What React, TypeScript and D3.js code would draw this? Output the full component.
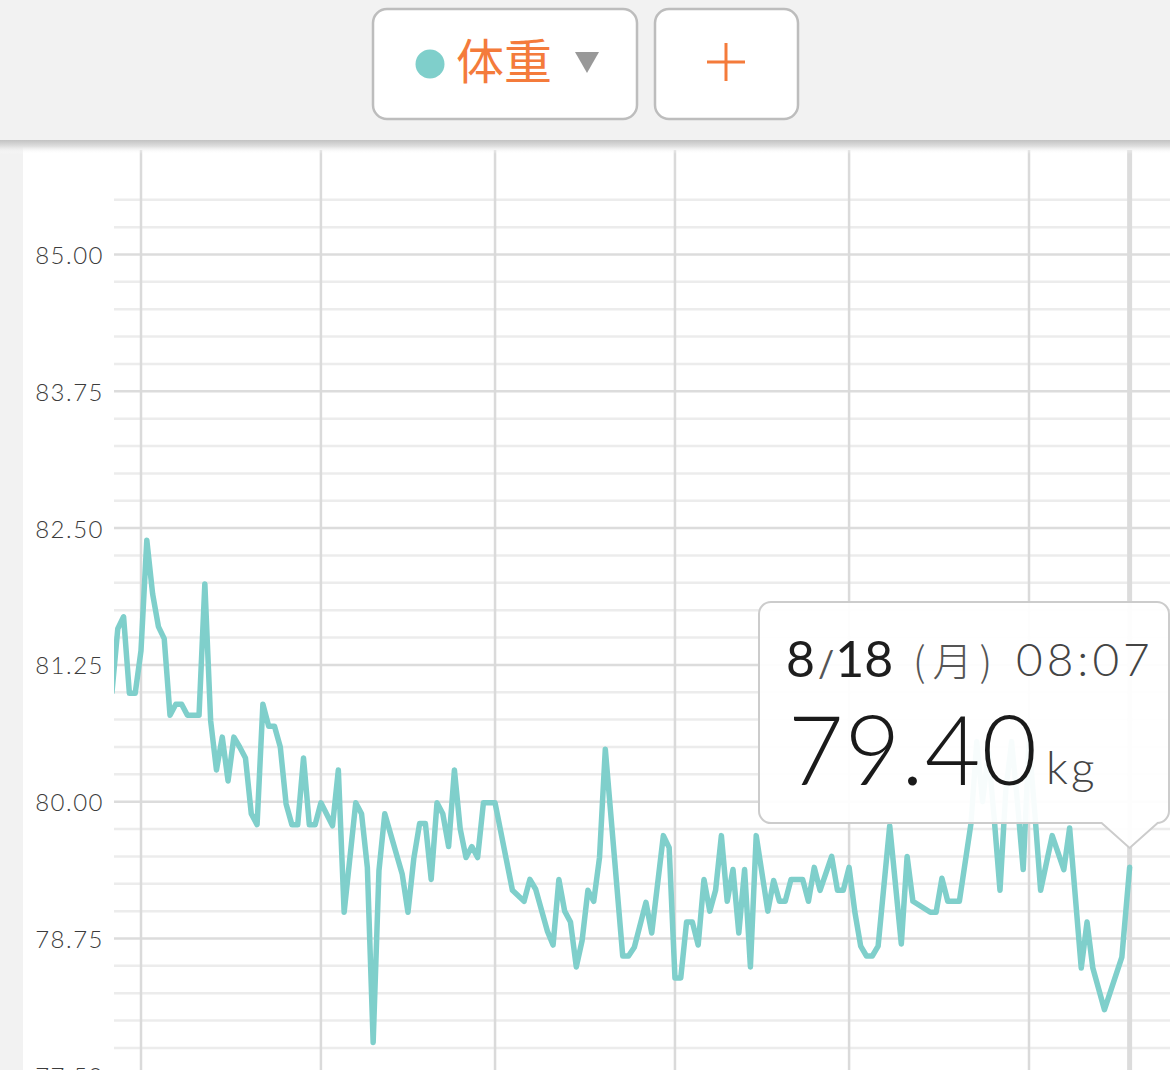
import React, { useEffect, useRef } from 'react';
import * as d3 from 'd3';

// --- data ---
const YEAR = 2025;
const seriesName = '体重';
const unit = 'kg';
const lastTime = '08:07';
const lastWeekday = '月';
const yTicks = [77.5, 78.75, 80, 81.25, 82.5, 83.75, 85];

const dates = [
  '2/24', '2/25', '2/26', '2/27', '2/28', '3/1', '3/2', '3/3', '3/4', '3/5',
  '3/6', '3/7', '3/8', '3/9', '3/11', '3/12', '3/13', '3/14', '3/15', '3/16',
  '3/17', '3/18', '3/19', '3/20', '3/21', '3/22', '3/23', '3/24', '3/25', '3/26',
  '3/27', '3/28', '3/29', '3/30', '3/31', '4/1', '4/3', '4/4', '4/5', '4/7',
  '4/8', '4/9', '4/10', '4/11', '4/12', '4/15', '4/16', '4/17', '4/18', '4/19',
  '4/20', '4/21', '4/22', '4/23', '4/24', '4/25', '4/26', '4/27', '4/28', '4/29',
  '4/30', '5/1', '5/4', '5/6', '5/7', '5/8', '5/10', '5/11', '5/12', '5/13',
  '5/14', '5/15', '5/16', '5/17', '5/18', '5/19', '5/20', '5/23', '5/24', '5/25',
  '5/27', '5/28', '5/30', '5/31', '6/1', '6/2', '6/3', '6/4', '6/5', '6/6',
  '6/7', '6/8', '6/9', '6/10', '6/11', '6/12', '6/13', '6/14', '6/15', '6/17',
  '6/18', '6/19', '6/20', '6/21', '6/22', '6/23', '6/24', '6/25', '6/26', '6/28',
  '6/29', '6/30', '7/1', '7/2', '7/3', '7/4', '7/5', '7/6', '7/8', '7/10',
  '7/11', '7/12', '7/15', '7/16', '7/17', '7/18', '7/20', '7/22', '7/23', '7/24',
  '7/25', '7/26', '7/27', '7/28', '7/29', '7/30', '7/31', '8/1', '8/2', '8/3',
  '8/5', '8/7', '8/8', '8/10', '8/11', '8/12', '8/14', '8/17', '8/18',
];

const weights = [
  81.0, 81.58, 81.69, 80.99, 80.99, 81.38, 82.39, 81.9, 81.6, 81.49,
  80.79, 80.89, 80.89, 80.79, 80.79, 81.99, 80.74, 80.29, 80.59, 80.19,
  80.59, 80.5, 80.4, 79.89, 79.79, 80.89, 80.69, 80.69, 80.5, 79.98,
  79.79, 79.79, 80.4, 79.79, 79.79, 79.99, 79.78, 80.29, 78.99, 79.99,
  79.89, 79.4, 77.8, 79.37, 79.89, 79.34, 78.99, 79.48, 79.8, 79.8,
  79.29, 79.99, 79.89, 79.59, 80.29, 79.75, 79.49, 79.59, 79.49, 79.99,
  79.99, 79.99, 79.19, 79.09, 79.29, 79.2, 78.82, 78.69, 79.29, 79.0,
  78.9, 78.49, 78.73, 79.19, 79.09, 79.49, 80.48, 78.59, 78.59, 78.67,
  79.08, 78.8, 79.69, 79.58, 78.39, 78.39, 78.9, 78.9, 78.69, 79.29,
  79.0, 79.19, 79.69, 79.09, 79.38, 78.8, 79.38, 78.49, 79.69, 79.0,
  79.28, 79.09, 79.09, 79.29, 79.29, 79.29, 79.09, 79.4, 79.19, 79.5,
  79.19, 79.19, 79.4, 78.99, 78.68, 78.59, 78.59, 78.68, 79.78, 78.7,
  79.5, 79.09, 78.99, 78.99, 79.3, 79.09, 79.09, 79.8, 80.55, 80.0,
  80.45, 79.85, 79.19, 80.1, 80.55, 80.0, 79.38, 80.55, 79.9, 79.19,
  79.69, 79.38, 79.76, 78.48, 78.9, 78.48, 78.1, 78.58, 79.4,
];

const TEAL = '#7fcfcb';
const ORANGE = '#f47b3b';
const LATIN = "Lato, 'Noto Sans', sans-serif";
const CJK = "'Noto Sans CJK JP', 'Noto Sans', sans-serif";

export default function App() {
  const svgRef = useRef<SVGSVGElement | null>(null);

  useEffect(() => {
    const width = 1170;
    const height = 1070;
    const svg = d3.select(svgRef.current);
    svg.selectAll('*').remove();

    const plot = { left: 114, right: width, top: 150, bottom: height };

    const parseDay = d3.timeParse('%Y/%m/%d');
    const data = dates.map((d, i) => ({ date: parseDay(`${YEAR}/${d}`) as Date, value: weights[i] }));
    const [hh, mm] = lastTime.split(':').map(Number);
    const last = data[data.length - 1];
    last.date = d3.timeMinute.offset(last.date, hh * 60 + mm);

    const x = d3.scaleTime()
      .domain([new Date(YEAR, 2, 1), new Date(YEAR, 7, 1)])
      .range([141, 1029]);
    const y = d3.scaleLinear().domain([77.5, 85]).range([1075.3, 254.5]);

    // --- backgrounds ---
    svg.append('rect').attr('width', width).attr('height', height).attr('fill', '#f2f2f2');
    svg.append('rect')
      .attr('x', 23).attr('y', 140)
      .attr('width', width - 23).attr('height', height - 140)
      .attr('fill', '#ffffff');

    const defs = svg.append('defs');
    defs.append('clipPath').attr('id', 'plot-clip')
      .append('rect')
      .attr('x', plot.left).attr('y', plot.top)
      .attr('width', plot.right - plot.left).attr('height', plot.bottom - plot.top);

    const grad = defs.append('linearGradient').attr('id', 'hdr-shadow')
      .attr('x1', 0).attr('y1', 0).attr('x2', 0).attr('y2', 1);
    grad.append('stop').attr('offset', '0%').attr('stop-color', '#c2c2c2');
    grad.append('stop').attr('offset', '45%').attr('stop-color', '#dfdfdf');
    grad.append('stop').attr('offset', '100%').attr('stop-color', '#ffffff').attr('stop-opacity', 0);

    // --- horizontal grid (every 0.25, darker every 1.25) ---
    const hVals = d3.range(0, 33).map(i => 77.5 + i * 0.25);
    svg.append('g')
      .selectAll('line')
      .data(hVals)
      .enter()
      .append('line')
      .attr('x1', plot.left).attr('x2', plot.right)
      .attr('y1', d => y(d)).attr('y2', d => y(d))
      .attr('stroke', (d, i) => (i % 5 === 0 ? '#dcdcdc' : '#ececec'))
      .attr('stroke-width', 2.5);

    // --- vertical grid at month starts ---
    const months = d3.timeMonth.range(new Date(YEAR, 1, 1), new Date(YEAR, 8, 2))
      .filter(d => x(d) > plot.left && x(d) < plot.right);
    svg.append('g')
      .selectAll('line')
      .data(months)
      .enter()
      .append('line')
      .attr('x1', d => x(d)).attr('x2', d => x(d))
      .attr('y1', plot.top).attr('y2', plot.bottom)
      .attr('stroke', '#dadada')
      .attr('stroke-width', 2.5);

    // cursor line at selected point
    const cx = x(last.date);
    svg.append('line')
      .attr('x1', cx).attr('x2', cx)
      .attr('y1', plot.top).attr('y2', plot.bottom)
      .attr('stroke', '#dcdcdc')
      .attr('stroke-width', 5);

    // --- y labels ---
    svg.append('g')
      .selectAll('text')
      .data(yTicks)
      .enter()
      .append('text')
      .attr('x', 104)
      .attr('y', d => y(d))
      .attr('text-anchor', 'end')
      .attr('dominant-baseline', 'central')
      .attr('font-family', LATIN)
      .attr('font-weight', 300)
      .attr('font-size', 24)
      .attr('letter-spacing', 1.5)
      .attr('fill', '#3c3c3c')
      .text(d => d3.format('.2f')(d));

    // --- data line ---
    const line = d3.line<{ date: Date; value: number }>()
      .x(d => x(d.date))
      .y(d => y(d.value));

    svg.append('path')
      .datum(data)
      .attr('clip-path', 'url(#plot-clip)')
      .attr('d', line)
      .attr('fill', 'none')
      .attr('stroke', TEAL)
      .attr('stroke-width', 5.5)
      .attr('stroke-linejoin', 'round')
      .attr('stroke-linecap', 'round');

    // --- tooltip ---
    const tl = 759, tt = 602, tr = 1169, tb = 823, r = 12;
    const ah = 25, aw = 28;
    const tipPath = [
      `M${tl + r},${tt}`,
      `H${tr - r}`, `A${r},${r} 0 0 1 ${tr},${tt + r}`,
      `V${tb - r}`, `A${r},${r} 0 0 1 ${tr - r},${tb}`,
      `H${cx + aw}`, `L${cx},${tb + ah}`, `L${cx - aw},${tb}`,
      `H${tl + r}`, `A${r},${r} 0 0 1 ${tl},${tb - r}`,
      `V${tt + r}`, `A${r},${r} 0 0 1 ${tl + r},${tt}`, 'Z',
    ].join(' ');
    svg.append('path')
      .attr('d', tipPath)
      .attr('fill', '#ffffff')
      .attr('fill-opacity', 0.94)
      .attr('stroke', '#cccccc')
      .attr('stroke-width', 2);

    const [mon, day] = dates[dates.length - 1].split('/');
    const dateText = svg.append('text')
      .attr('x', 786).attr('y', 677)
      .attr('font-family', LATIN)
      .attr('font-size', 50)
      .attr('fill', '#1e1e1e');
    dateText.append('tspan').text(mon);
    dateText.append('tspan').attr('font-size', 36).attr('fill', '#555').attr('dx', 3).text('/');
    dateText.append('tspan').attr('dx', 1).text(day);

    svg.append('text')
      .attr('x', 913).attr('y', 676)
      .attr('font-family', CJK)
      .attr('font-weight', 300)
      .attr('font-size', 40)
      .attr('letter-spacing', 7)
      .attr('fill', '#555')
      .text(`(${lastWeekday})`);

    svg.append('text')
      .attr('x', 1016).attr('y', 676)
      .attr('font-family', LATIN)
      .attr('font-weight', 300)
      .attr('font-size', 46)
      .attr('letter-spacing', 4)
      .attr('fill', '#444')
      .text(lastTime);

    svg.append('text')
      .attr('x', 788).attr('y', 785)
      .attr('font-family', LATIN)
      .attr('font-weight', 300)
      .attr('font-size', 96)
      .attr('letter-spacing', 1)
      .attr('fill', '#1a1a1a')
      .text(d3.format('.2f')(last.value));

    svg.append('text')
      .attr('x', 1046).attr('y', 784)
      .attr('font-family', LATIN)
      .attr('font-weight', 300)
      .attr('font-size', 46)
      .attr('letter-spacing', 3)
      .attr('fill', '#444')
      .text(unit);

    // --- header ---
    svg.append('rect').attr('width', width).attr('height', 140).attr('fill', '#f2f2f2');
    svg.append('rect')
      .attr('x', 0).attr('y', 140).attr('width', width).attr('height', 14)
      .attr('fill', 'url(#hdr-shadow)');

    const btn = [
      { x: 373, w: 264 },
      { x: 655, w: 143 },
    ];
    svg.append('g')
      .selectAll('rect')
      .data(btn)
      .enter()
      .append('rect')
      .attr('x', d => d.x).attr('y', 9)
      .attr('width', d => d.w).attr('height', 110)
      .attr('rx', 14)
      .attr('fill', '#ffffff')
      .attr('stroke', '#bdbdbd')
      .attr('stroke-width', 2.5);

    svg.append('circle').attr('cx', 430).attr('cy', 64).attr('r', 14.5).attr('fill', TEAL);
    svg.append('text')
      .attr('x', 456).attr('y', 79)
      .attr('font-family', CJK)
      .attr('font-size', 48)
      .attr('fill', ORANGE)
      .text(seriesName);
    svg.append('path')
      .attr('d', 'M575,52 L599,52 L587,73 Z')
      .attr('fill', '#999999');

    svg.append('line')
      .attr('x1', 707).attr('x2', 745).attr('y1', 62).attr('y2', 62)
      .attr('stroke', ORANGE).attr('stroke-width', 3);
    svg.append('line')
      .attr('x1', 726).attr('x2', 726).attr('y1', 43).attr('y2', 81)
      .attr('stroke', ORANGE).attr('stroke-width', 3);
  }, []);

  return (
    <div style={{ position: 'absolute', left: 0, top: 0, width: 1170, height: 1070, overflow: 'hidden' }}>
      <svg ref={svgRef} width={1170} height={1070} style={{ display: 'block' }} />
    </div>
  );
}
